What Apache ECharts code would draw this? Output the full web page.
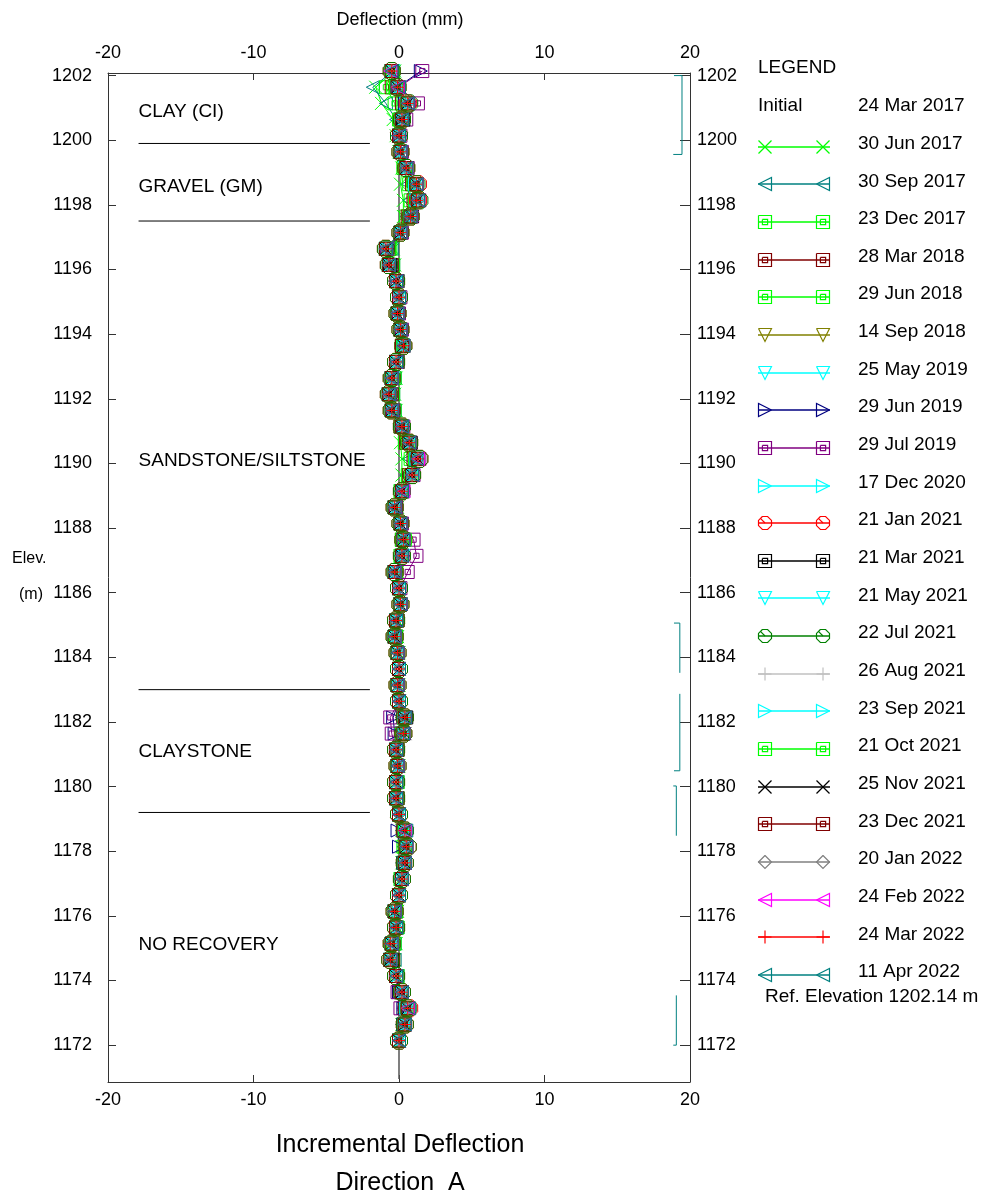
<!DOCTYPE html>
<html><head><meta charset="utf-8">
<script src="https://cdn.jsdelivr.net/npm/echarts@6/dist/echarts.min.js"></script>
<style>html,body{margin:0;padding:0;background:#fff}#c{width:1000px;height:1198px}</style>
</head><body><div id="c"></div>
<script>
const FONT = '"Liberation Sans", Arial, Helvetica, sans-serif';

const elevations = [1202.14,1201.64,1201.14,1200.64,1200.14,1199.64,1199.14,1198.64,1198.14,1197.64,
1197.14,1196.64,1196.14,1195.64,1195.14,1194.64,1194.14,1193.64,1193.14,1192.64,
1192.14,1191.64,1191.14,1190.64,1190.14,1189.64,1189.14,1188.64,1188.14,1187.64,
1187.14,1186.64,1186.14,1185.64,1185.14,1184.64,1184.14,1183.64,1183.14,1182.64,
1182.14,1181.64,1181.14,1180.64,1180.14,1179.64,1179.14,1178.64,1178.14,1177.64,
1177.14,1176.64,1176.14,1175.64,1175.14,1174.64,1174.14,1173.64,1173.14,1172.64,
1172.14];

const xTicks = [-20,-10,0,10,20];
const yTicks = [1172,1174,1176,1178,1180,1182,1184,1186,1188,1190,1192,1194,1196,1198,1200,1202];

const jun2017 = [-0.3,-1.6,-1.2,-0.4,-0.2,0.0,0.2,0.1,0.3,0.3,
0.1,-0.4,-0.3,-0.1,0.0,-0.1,0.1,0.2,-0.1,-0.2,
-0.3,-0.2,0.1,0.1,0.2,0.2,0.1,-0.1,0.1,0.2,
0.1,-0.1,0.0,0.1,-0.1,-0.1,0.0,0.0,0.0,0.0,
0.2,0.1,-0.1,0.0,-0.1,-0.1,0.0,0.2,0.2,0.2,
0.1,0.0,-0.1,-0.1,-0.2,-0.3,-0.1,0.1,0.3,0.2,
0.0];
const sep2017 = [-0.4,-1.8,-0.9,-0.2,-0.1,0.1,0.3,0.6,0.7,0.5,
0.1,-0.5,-0.4,-0.1,0.0,-0.1,0.1,0.2,-0.1,-0.3,
-0.4,-0.3,0.1,0.4,0.7,0.5,0.1,-0.2,0.1,0.2,
0.1,-0.2,0.0,0.1,-0.1,-0.2,-0.1,0.0,-0.1,0.0,
0.2,0.2,-0.1,-0.1,-0.1,-0.1,0.0,0.2,0.3,0.2,
0.1,0.0,-0.2,-0.1,-0.3,-0.3,-0.1,0.1,0.3,0.2,
0.0];
const dec2017 = [-0.4,-0.9,-0.3,0.0,0.0,0.1,0.3,0.7,0.8,0.5,
0.1,-0.6,-0.4,-0.1,0.0,-0.1,0.1,0.2,-0.1,-0.3,
-0.4,-0.3,0.1,0.4,0.8,0.6,0.1,-0.2,0.1,0.2,
0.1,-0.2,0.0,0.1,-0.1,-0.2,-0.1,0.0,-0.1,0.0,
0.3,0.2,-0.1,-0.1,-0.1,-0.1,0.0,0.3,0.3,0.3,
0.1,0.0,-0.2,-0.1,-0.3,-0.4,-0.1,0.1,0.4,0.3,
0.0];
const mar2018 = [-0.5,-0.5,0.2,0.1,0.0,0.1,0.4,0.9,1.0,0.6,
0.1,-0.7,-0.5,-0.2,0.0,-0.1,0.1,0.2,-0.1,-0.4,
-0.5,-0.4,0.1,0.5,1.0,0.7,0.2,-0.2,0.1,0.2,
0.2,-0.2,0.0,0.1,-0.1,-0.2,-0.1,0.0,-0.1,0.0,
0.3,0.2,-0.1,-0.1,-0.2,-0.1,0.0,0.3,0.4,0.3,
0.2,0.0,-0.2,-0.2,-0.4,-0.4,-0.2,0.1,0.4,0.3,
0.0];
const jun2018 = [-0.5,-0.4,0.3,0.1,0.0,0.1,0.4,1.0,1.1,0.7,
0.1,-0.7,-0.6,-0.2,0.0,-0.1,0.1,0.2,-0.1,-0.4,
-0.6,-0.4,0.2,0.6,1.1,0.8,0.2,-0.2,0.1,0.2,
0.2,-0.2,0.0,0.1,-0.2,-0.2,-0.1,0.0,-0.1,0.0,
0.3,0.2,-0.2,-0.1,-0.2,-0.2,0.0,0.3,0.4,0.3,
0.2,0.0,-0.2,-0.2,-0.4,-0.5,-0.2,0.2,0.5,0.3,
0.0];
const sep2018 = [-0.5,-0.3,0.4,0.2,0.0,0.1,0.4,1.0,1.1,0.7,
0.1,-0.8,-0.6,-0.2,0.0,-0.1,0.1,0.3,-0.2,-0.4,
-0.6,-0.4,0.2,0.6,1.1,0.8,0.2,-0.3,0.1,0.3,
0.2,-0.3,0.0,0.1,-0.2,-0.3,-0.1,0.0,-0.1,0.0,
0.3,0.3,-0.2,-0.1,-0.2,-0.2,0.0,0.3,0.4,0.4,
0.2,0.0,-0.3,-0.2,-0.4,-0.5,-0.2,0.2,0.5,0.4,
0.0];
const may2019 = [-0.5,-0.2,0.5,0.2,0.0,0.1,0.5,1.1,1.2,0.8,
0.1,-0.8,-0.7,-0.2,0.0,-0.1,0.1,0.3,-0.2,-0.5,
-0.6,-0.5,0.2,0.7,1.2,0.9,0.2,-0.3,0.1,0.3,
0.2,-0.3,0.0,0.1,-0.2,-0.3,-0.1,0.0,-0.1,0.0,
0.4,0.3,-0.2,-0.1,-0.2,-0.2,0.0,0.4,0.5,0.4,
0.2,0.0,-0.3,-0.2,-0.5,-0.6,-0.2,0.2,0.5,0.4,
0.0];
const jun2019 = [1.5,-0.1,0.4,0.3,0.1,0.1,0.5,1.1,1.2,0.8,
0.2,-0.8,-0.6,-0.1,0.0,-0.1,0.2,0.3,-0.2,-0.5,
-0.7,-0.4,0.3,0.7,1.2,0.9,0.3,-0.3,0.1,0.3,
0.3,-0.2,0.0,0.1,-0.2,-0.3,-0.1,0.0,-0.1,0.0,
-0.4,-0.3,-0.2,-0.1,-0.2,-0.2,0.0,-0.1,0.0,0.3,
0.2,0.0,-0.3,-0.2,-0.5,-0.6,-0.2,0.0,0.3,0.3,
0.0];
const jul2019 = [1.6,0.0,1.3,0.5,0.1,0.2,0.6,1.2,1.4,0.9,
0.2,-0.8,-0.6,-0.1,0.1,0.0,0.2,0.3,-0.1,-0.5,
-0.6,-0.4,0.3,0.8,1.4,1.0,0.3,-0.2,0.2,1.0,
1.2,0.6,0.1,0.1,-0.2,-0.3,-0.1,0.0,-0.1,0.0,
-0.6,-0.5,-0.2,-0.1,-0.2,-0.2,0.0,0.4,0.5,0.4,
0.2,0.0,-0.3,-0.2,-0.5,-0.6,-0.2,-0.1,0.1,0.4,
0.0];
const dec2020 = [-0.5,-0.1,0.5,0.2,0.0,0.1,0.5,1.2,1.2,0.8,
0.1,-0.9,-0.7,-0.2,0.0,-0.1,0.1,0.3,-0.2,-0.5,
-0.7,-0.5,0.2,0.7,1.2,0.9,0.2,-0.3,0.1,0.3,
0.2,-0.3,0.0,0.1,-0.2,-0.3,-0.1,0.0,-0.1,0.0,
0.4,0.3,-0.2,-0.1,-0.2,-0.2,0.0,0.3,0.5,0.4,
0.2,0.0,-0.3,-0.2,-0.5,-0.6,-0.2,0.2,0.6,0.4,
0.0];
const jan2021 = [-0.5,-0.1,0.6,0.2,0.0,0.1,0.5,1.3,1.3,0.8,
0.1,-0.9,-0.7,-0.2,0.0,-0.1,0.1,0.3,-0.2,-0.5,
-0.7,-0.5,0.2,0.7,1.4,0.9,0.2,-0.3,0.1,0.3,
0.2,-0.3,0.0,0.1,-0.2,-0.3,-0.1,0.0,-0.1,0.0,
0.4,0.3,-0.2,-0.1,-0.2,-0.2,0.0,0.4,0.6,0.4,
0.2,0.0,-0.3,-0.2,-0.5,-0.6,-0.2,0.2,0.7,0.4,
0.0];
const mar2021 = [-0.5,-0.1,0.6,0.3,0.0,0.1,0.5,1.2,1.3,0.8,
0.1,-0.9,-0.6,-0.2,0.0,-0.1,0.1,0.3,-0.2,-0.5,
-0.7,-0.5,0.2,0.8,1.3,0.9,0.2,-0.3,0.1,0.3,
0.2,-0.3,0.0,0.1,-0.2,-0.3,-0.1,0.0,-0.1,0.0,
0.5,0.3,-0.2,-0.1,-0.2,-0.2,0.0,0.4,0.5,0.4,
0.2,0.0,-0.3,-0.2,-0.5,-0.5,-0.2,0.2,0.6,0.4,
0.0];
const may2021 = [-0.4,-0.1,0.6,0.2,0.0,0.1,0.4,1.2,1.3,0.8,
0.1,-0.9,-0.7,-0.2,0.0,-0.1,0.1,0.3,-0.2,-0.4,
-0.7,-0.5,0.2,0.7,1.3,0.9,0.2,-0.3,0.1,0.3,
0.3,-0.3,0.0,0.1,-0.2,-0.3,-0.1,0.0,-0.1,0.0,
0.4,0.3,-0.2,-0.1,-0.2,-0.2,0.0,0.4,0.5,0.4,
0.2,0.0,-0.3,-0.2,-0.5,-0.6,-0.2,0.2,0.6,0.4,
0.0];
const jul2021 = [-0.5,-0.1,0.7,0.2,0.0,0.1,0.5,1.2,1.4,0.8,
0.1,-0.9,-0.7,-0.2,0.0,-0.1,0.1,0.3,-0.2,-0.5,
-0.7,-0.5,0.2,0.7,1.4,0.9,0.2,-0.3,0.1,0.3,
0.2,-0.3,0.0,0.1,-0.2,-0.3,-0.1,0.0,-0.1,0.0,
0.4,0.3,-0.2,-0.1,-0.2,-0.2,0.0,0.4,0.6,0.4,
0.2,0.0,-0.3,-0.2,-0.5,-0.6,-0.2,0.2,0.6,0.4,
0.0];
const aug2021 = [-0.5,-0.1,0.6,0.2,0.0,0.1,0.5,1.2,1.3,0.8,
0.1,-1.0,-0.7,-0.2,0.0,-0.1,0.1,0.3,-0.2,-0.5,
-0.8,-0.5,0.2,0.7,1.3,0.9,0.2,-0.3,0.1,0.3,
0.2,-0.3,0.0,0.1,-0.2,-0.3,-0.1,0.0,-0.1,0.0,
0.4,0.3,-0.2,-0.1,-0.2,-0.2,0.0,0.4,0.5,0.4,
0.2,0.0,-0.3,-0.2,-0.5,-0.6,-0.2,0.2,0.6,0.4,
0.0];
const sep2021 = [-0.5,-0.1,0.6,0.2,0.0,0.1,0.5,1.1,1.3,0.8,
0.1,-0.9,-0.7,-0.2,0.0,-0.1,0.1,0.3,-0.2,-0.5,
-0.7,-0.5,0.2,0.7,1.3,1.0,0.2,-0.3,0.1,0.3,
0.2,-0.3,0.0,0.1,-0.2,-0.3,-0.1,0.0,-0.1,0.0,
0.4,0.3,-0.2,-0.1,-0.2,-0.2,0.0,0.4,0.5,0.4,
0.2,0.0,-0.3,-0.2,-0.5,-0.6,-0.2,0.2,0.5,0.4,
0.0];
const oct2021 = [-0.5,-0.2,0.6,0.2,0.0,0.1,0.5,1.2,1.3,0.8,
0.1,-0.9,-0.7,-0.2,0.0,-0.1,0.1,0.3,-0.2,-0.5,
-0.7,-0.5,0.2,0.7,1.3,0.9,0.2,-0.3,0.1,0.4,
0.2,-0.3,0.0,0.1,-0.2,-0.3,-0.1,0.0,-0.1,0.0,
0.4,0.3,-0.2,-0.1,-0.2,-0.2,0.0,0.4,0.5,0.4,
0.2,0.0,-0.3,-0.2,-0.5,-0.6,-0.2,0.2,0.6,0.4,
0.0];
const nov2021 = [-0.5,-0.1,0.6,0.2,0.0,0.1,0.5,1.2,1.3,0.9,
0.1,-0.9,-0.7,-0.2,0.0,-0.1,0.1,0.3,-0.2,-0.5,
-0.7,-0.5,0.2,0.7,1.3,0.9,0.2,-0.3,0.1,0.3,
0.2,-0.3,0.0,0.1,-0.2,-0.3,-0.1,0.0,-0.1,0.0,
0.4,0.4,-0.2,-0.1,-0.2,-0.2,0.0,0.4,0.5,0.4,
0.2,0.0,-0.3,-0.2,-0.5,-0.6,-0.2,0.2,0.6,0.4,
0.0];
const dec2021 = [-0.5,-0.1,0.6,0.2,0.0,0.1,0.5,1.2,1.3,0.8,
0.1,-0.9,-0.7,-0.2,0.0,-0.1,0.1,0.2,-0.2,-0.5,
-0.7,-0.5,0.2,0.7,1.3,0.9,0.2,-0.3,0.1,0.3,
0.2,-0.3,0.0,0.1,-0.2,-0.3,-0.1,0.0,-0.1,0.0,
0.4,0.3,-0.2,-0.1,-0.2,-0.2,0.0,0.3,0.5,0.4,
0.2,0.0,-0.3,-0.2,-0.5,-0.6,-0.2,0.2,0.6,0.4,
0.0];
const jan2022 = [-0.5,-0.1,0.6,0.2,0.0,0.1,0.5,1.2,1.3,0.8,
0.1,-0.9,-0.7,-0.3,0.0,-0.1,0.1,0.3,-0.2,-0.5,
-0.7,-0.5,0.2,0.7,1.3,0.9,0.2,-0.3,0.1,0.3,
0.2,-0.3,0.0,0.1,-0.2,-0.3,-0.1,0.0,-0.1,0.0,
0.4,0.3,-0.2,-0.1,-0.2,-0.2,0.0,0.4,0.5,0.4,
0.2,0.0,-0.4,-0.2,-0.5,-0.6,-0.2,0.2,0.6,0.4,
0.0];
const feb2022 = [-0.6,-0.1,0.6,0.2,0.0,0.1,0.5,1.2,1.3,0.8,
0.1,-0.9,-0.7,-0.2,0.0,-0.1,0.1,0.3,-0.2,-0.5,
-0.7,-0.5,0.2,0.7,1.3,0.9,0.3,-0.3,0.1,0.3,
0.2,-0.3,0.0,0.1,-0.2,-0.3,-0.1,0.0,-0.1,0.0,
0.4,0.3,-0.2,-0.1,-0.2,-0.2,0.0,0.4,0.5,0.4,
0.2,0.0,-0.3,-0.2,-0.5,-0.6,-0.2,0.2,0.6,0.4,
0.0];
const mar2022 = [-0.5,-0.1,0.6,0.2,0.0,0.1,0.5,1.2,1.2,0.8,
0.1,-0.9,-0.7,-0.2,0.0,-0.1,0.1,0.3,-0.2,-0.5,
-0.7,-0.5,0.2,0.7,1.3,0.9,0.2,-0.3,0.1,0.3,
0.2,-0.3,0.0,0.1,-0.2,-0.3,-0.1,0.0,-0.1,0.0,
0.4,0.3,-0.2,-0.1,-0.2,-0.2,0.0,0.4,0.5,0.4,
0.2,0.0,-0.3,-0.2,-0.6,-0.6,-0.2,0.2,0.6,0.4,
0.0];
const apr2022 = [-0.5,0.0,0.6,0.2,0.0,0.1,0.5,1.2,1.3,0.8,
0.1,-0.9,-0.7,-0.2,0.0,-0.1,0.1,0.3,-0.2,-0.5,
-0.7,-0.5,0.2,0.7,1.2,0.9,0.2,-0.3,0.1,0.3,
0.2,-0.3,0.0,0.1,-0.2,-0.3,-0.1,0.0,-0.1,0.0,
0.4,0.3,-0.2,-0.1,-0.2,-0.2,0.0,0.5,0.5,0.4,
0.2,0.0,-0.3,-0.2,-0.5,-0.6,-0.2,0.2,0.7,0.4,
0.0];

const strataElev = [1199.9, 1197.5, 1183.0, 1179.2];
const strataX = [-17.9, -2.0];
const strataNames = ['CLAY (CI)', 'GRAVEL (GM)', 'SANDSTONE/SILTSTONE', 'CLAYSTONE', 'NO RECOVERY'];
const strataLabelElev = [1200.87, 1198.57, 1190.07, 1181.07, 1175.12];

const brackets = [
  [[18.9,1202.0],[19.45,1202.0],[19.45,1199.56],[18.85,1199.56]],
  [[18.9,1185.06],[19.3,1185.06],[19.3,1183.52]],
  [[19.3,1182.87],[19.3,1180.49],[18.9,1180.49]],
  [[18.85,1180.02],[19.06,1180.02],[19.06,1178.48]],
  [[19.06,1173.54],[19.06,1172.0],[18.85,1172.0]]
];

// marker shapes in a 10x10 box, as lists of polylines
const SHAPES = {
  x: [[[0,0],[10,10]], [[10,0],[0,10]]],
  tl: [[[0,5],[10,0],[10,10],[0,5]]],
  tr: [[[10,5],[0,0],[0,10],[10,5]]],
  td: [[[0,0],[10,0],[5,10],[0,0]]],
  sq: [[[0,0],[10,0],[10,10],[0,10],[0,0]], [[3,3],[7,3],[7,7],[3,7],[3,3]]],
  oct: [[[3,0],[7,0],[10,3],[10,7],[7,10],[3,10],[0,7],[0,3],[3,0]], [[5,5],[1.5,1.5]]],
  plus: [[[5,0],[5,10]], [[0,5],[10,5]]],
  dia: [[[5,0],[10,5],[5,10],[0,5],[5,0]]]
};
const SIZES = { x: 13, tl: 13, tr: 13, td: 13, sq: 13, oct: 17, plus: 13, dia: 13 };
function shapePath(s) {
  return 'path://' + SHAPES[s].map(pl => pl.map((p, j) => (j ? 'L' : 'M') + p[0] + ',' + p[1]).join('')).join('');
}

const seriesDefs = [
  ['30 Jun 2017', '#00ff00', 'x', jun2017],
  ['30 Sep 2017', '#008080', 'tl', sep2017],
  ['23 Dec 2017', '#00ff00', 'sq', dec2017],
  ['28 Mar 2018', '#800000', 'sq', mar2018],
  ['29 Jun 2018', '#00ff00', 'sq', jun2018],
  ['14 Sep 2018', '#808000', 'td', sep2018],
  ['25 May 2019', '#00ffff', 'td', may2019],
  ['29 Jun 2019', '#000080', 'tr', jun2019],
  ['29 Jul 2019', '#800080', 'sq', jul2019],
  ['17 Dec 2020', '#00ffff', 'tr', dec2020],
  ['21 Jan 2021', '#ff0000', 'oct', jan2021],
  ['21 Mar 2021', '#000000', 'sq', mar2021],
  ['21 May 2021', '#00ffff', 'td', may2021],
  ['22 Jul 2021', '#008000', 'oct', jul2021],
  ['26 Aug 2021', '#c0c0c0', 'plus', aug2021],
  ['23 Sep 2021', '#00ffff', 'tr', sep2021],
  ['21 Oct 2021', '#00ff00', 'sq', oct2021],
  ['25 Nov 2021', '#000000', 'x', nov2021],
  ['23 Dec 2021', '#800000', 'sq', dec2021],
  ['20 Jan 2022', '#808080', 'dia', jan2022],
  ['24 Feb 2022', '#ff00ff', 'tl', feb2022],
  ['24 Mar 2022', '#ff0000', 'plus', mar2022],
  ['11 Apr 2022', '#008080', 'tl', apr2022]
];

const series = [];
series.push({
  type: 'line', silent: true, symbol: 'none', animation: false, clip: false, z: 1,
  data: [[0, 1170.95], [0, elevations[0]]],
  lineStyle: { color: '#555', width: 1.5 }
});
strataElev.forEach(e => {
  series.push({
    type: 'line', silent: true, symbol: 'none', animation: false, z: 1,
    data: [[strataX[0], e], [strataX[1], e]],
    lineStyle: { color: '#000', width: 1 }
  });
});
brackets.forEach(b => {
  series.push({
    type: 'line', silent: true, symbol: 'none', animation: false, z: 1,
    data: b, lineStyle: { color: '#008080', width: 1 }
  });
});
seriesDefs.forEach(([name, c, s, vals]) => {
  series.push({
    name, type: 'line', animation: false, clip: false, z: 2, silent: true,
    symbol: shapePath(s), symbolSize: SIZES[s], showAllSymbol: true,
    itemStyle: { color: 'none', borderColor: c, borderWidth: 1 },
    lineStyle: { color: c, width: 1 },
    emphasis: { disabled: true },
    data: vals.map((v, k) => [v, elevations[k]])
  });
});

const graphic = [];
function txt(t, x, y, size, align) {
  graphic.push({ type: 'text', x, y: y + 2, silent: true,
    style: { text: t, fill: '#000', font: size + 'px ' + FONT, textAlign: align || 'left', textVerticalAlign: 'middle' } });
}
txt('Deflection (mm)', 400, 18, 18, 'center');
txt('Elev.', 12, 557, 16);
txt('(m)', 19, 593, 16);
txt('Incremental Deflection', 400, 1143, 25, 'center');
txt('Direction  A', 400, 1181, 25, 'center');

const legendX = 758, legendTextX = 858, legendY0 = 104, legendStep = 37.65;
txt('LEGEND', legendX, 66, 19);
txt('Initial', legendX, legendY0, 19);
txt('24 Mar 2017', legendTextX, legendY0, 19);
seriesDefs.forEach(([name, c, s], i) => {
  const y = legendY0 + legendStep * (i + 1);
  txt(name, legendTextX, y, 19);
  const ly = Math.round(y + 5);
  graphic.push({ type: 'line', silent: true, shape: { x1: legendX, y1: ly, x2: legendX + 72, y2: ly }, style: { stroke: c, lineWidth: 1.4 } });
  [legendX + 7, legendX + 65].forEach(cx => {
    SHAPES[s].forEach(pl => {
      graphic.push({ type: 'polyline', silent: true,
        shape: { points: pl.map(p => [cx - 6.5 + p[0] * 1.3, ly - 6.5 + p[1] * 1.3]) },
        style: { fill: null, stroke: c, lineWidth: 1.2 } });
    });
  });
});
txt('Ref. Elevation 1202.14 m', 765, 995, 19);

const chart = echarts.init(document.getElementById('c'), null, { renderer: 'canvas' });

const axisCommon = {
  axisLine: { show: true, onZero: false, lineStyle: { color: '#333', width: 1 } },
  splitLine: { show: false }
};
const plainNum = v => String(v);

chart.setOption({
  animation: false,
  backgroundColor: '#fff',
  grid: { left: 108, top: 73, width: 582, height: 1009, containLabel: false },
  xAxis: [
    Object.assign({ type: 'value', position: 'bottom', min: xTicks[0], max: xTicks[xTicks.length - 1], interval: 10,
      axisTick: { inside: true, length: 7, lineStyle: { color: '#333' } },
      axisLabel: { color: '#000', fontSize: 18, fontFamily: FONT, margin: 9, formatter: plainNum } }, axisCommon),
    Object.assign({ type: 'value', position: 'top', min: xTicks[0], max: xTicks[xTicks.length - 1], interval: 10,
      axisTick: { inside: true, length: 7, lineStyle: { color: '#333' } },
      axisLabel: { color: '#000', fontSize: 18, fontFamily: FONT, margin: 11, formatter: plainNum } }, axisCommon)
  ],
  yAxis: [
    Object.assign({ type: 'value', position: 'left', min: 1170.86, max: 1202.08,
      axisTick: { inside: true, length: 8, customValues: yTicks, lineStyle: { color: '#333' } },
      axisLabel: { color: '#000', fontSize: 18, fontFamily: FONT, margin: 16, customValues: yTicks, formatter: plainNum } }, axisCommon),
    Object.assign({ type: 'value', position: 'right', min: 1170.86, max: 1202.08,
      axisTick: { inside: true, length: 10, customValues: yTicks, lineStyle: { color: '#333' } },
      axisLabel: { color: '#000', fontSize: 18, fontFamily: FONT, margin: 7, customValues: yTicks, formatter: plainNum } }, axisCommon)
  ],
  series,
  graphic
});

// strata labels placed at data coordinates via the chart's own scale
const strataGraphics = strataNames.map((n, i) => {
  const p = chart.convertToPixel({ gridIndex: 0 }, [strataX[0], strataLabelElev[i]]);
  return { type: 'text', x: p[0], y: p[1], silent: true,
    style: { text: n, fill: '#000', font: '19px ' + FONT, textAlign: 'left', textVerticalAlign: 'middle' } };
});
chart.setOption({ graphic: graphic.concat(strataGraphics) });
</script>
</body></html>
